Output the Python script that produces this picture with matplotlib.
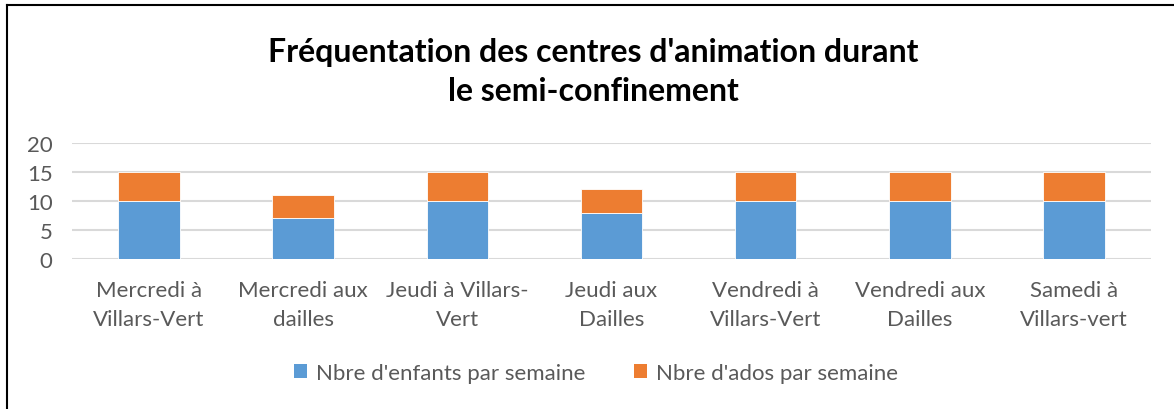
import matplotlib
matplotlib.use("Agg")
import matplotlib.pyplot as plt
import numpy as np
from matplotlib.lines import Line2D
from matplotlib.patches import Patch

categories = ["Mercredi à\nVillars-Vert", "Mercredi aux\ndailles", "Jeudi à Villars-\nVert",
              "Jeudi aux\nDailles", "Vendredi à\nVillars-Vert", "Vendredi aux\nDailles",
              "Samedi à\nVillars-vert"]
enfants = [10, 7, 10, 8, 10, 10, 10]
ados = [5, 4, 5, 4, 5, 5, 5]
series_names = ["Nbre d'enfants par semaine", "Nbre d'ados par semaine"]
yticks = [0, 5, 10, 15, 20]
title = "Fréquentation des centres d'animation durant\nle semi-confinement"

plt.rcParams['font.family'] = ['Lato', 'DejaVu Sans']
BLUE = "#5B9BD5"
ORANGE = "#ED7D31"
GREY = "#595959"

fig = plt.figure(figsize=(11.74, 4.10), dpi=100)
ax = fig.add_axes([72/1174, 1-260/410, (1151-72)/1174, (260-144)/410])

x = np.arange(len(categories))
w = 0.4
ax.bar(x, enfants, w, color=BLUE, edgecolor="white", linewidth=0.6, zorder=3)
ax.bar(x, ados, w, bottom=enfants, color=ORANGE, edgecolor="white", linewidth=0.6, zorder=3)

ax.set_xlim(-0.5, len(categories)-0.5)
ax.set_ylim(0, 20)
ax.set_yticks(yticks)
ax.set_yticklabels([str(v) for v in yticks], fontsize=16, color=GREY)
ax.set_xticks(x)
ax.set_xticklabels(categories, fontsize=16, color=GREY, linespacing=1.6)
ax.tick_params(axis='both', length=0)
ax.tick_params(axis='x', pad=15)
ax.tick_params(axis='y', pad=14)
for s in ax.spines.values():
    s.set_visible(False)
ax.grid(axis='y', color="#D9D9D9", linewidth=1.5, zorder=0)
ax.set_axisbelow(True)

fig.text(593/1174, 1-72/410, title, ha='center', va='center', fontsize=23,
         fontweight='bold', color='black', linespacing=1.4)

handles = [Patch(facecolor=BLUE), Patch(facecolor=ORANGE)]
fig.legend(handles, series_names, loc='center', bbox_to_anchor=(596/1174, 1-374/410),
           ncol=2, frameon=False, fontsize=16, labelcolor=GREY, handlelength=0.6,
           handleheight=0.6, handletextpad=0.4, columnspacing=2.2)

fig.add_artist(Line2D([7/1174, 7/1174], [0, 1-6/410], color='black', linewidth=1.5))
fig.add_artist(Line2D([7/1174, 1], [1-6/410, 1-6/410], color='black', linewidth=1.5))

fig.savefig("out.png", dpi=100)
